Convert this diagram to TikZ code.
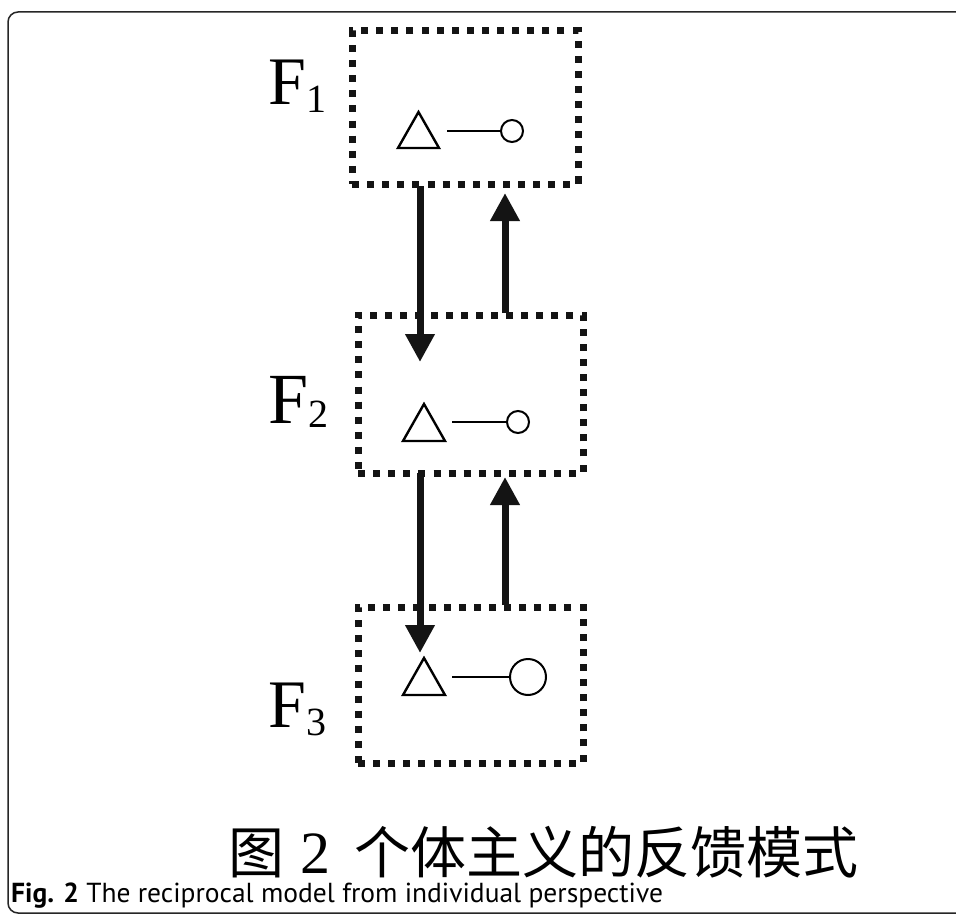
\documentclass[tikz,border=0pt]{standalone}
\usepackage{fontspec}
\setmainfont{Liberation Serif}
\newfontfamily\cjk{Noto Sans CJK SC}
\newfontfamily\capfont{PT Sans}
\usetikzlibrary{arrows.meta,shapes.geometric,calc}
\begin{document}
\begin{tikzpicture}[x=1pt,y=-1pt,
  dotbox/.style={draw=black!92,line width=7pt,dash pattern=on 7pt off 8.1pt,rectangle,inner sep=0pt,outer sep=0pt},
  bigarrow/.style={line width=7pt,draw=black!92,-{Triangle[length=28pt,width=28pt]}},
  shape line/.style={line width=2.4pt,draw=black},
  flabel/.style={anchor=base west,inner sep=0pt},
  frame/.style={draw=black!85,line width=1.5pt,rounded corners=10pt}]
\useasboundingbox (0,0) rectangle (956,915);
\fill[white] (0,0) rectangle (956,915);
% outer frame
\draw[frame] (972,12) -- (8,12) -- (8,913) -- (972,913);
% boxes
\node[dotbox,minimum width=226pt,minimum height=153pt] (b1) at (465,107.5) {};
\node[dotbox,minimum width=225pt,minimum height=158pt] (b2) at (470.5,394) {};
\node[dotbox,minimum width=225pt,minimum height=156pt] (b3) at (470.5,685) {};
% arrow endpoints
\coordinate (d1s) at (420,186);
\coordinate (d1t) at (420,362);
\coordinate (u1s) at (505,313);
\coordinate (u1t) at (505,193);
\coordinate (d2s) at (420,473);
\coordinate (d2t) at (420,653);
\coordinate (u2s) at (505,605);
\coordinate (u2t) at (505,477);
\draw[bigarrow] (d1s) -- (d1t);
\draw[bigarrow] (u1s) -- (u1t);
\draw[bigarrow] (d2s) -- (d2t);
\draw[bigarrow] (u2s) -- (u2t);
% triangle-circle symbols
\draw[shape line,line join=miter] (398,148) -- (418.5,112) -- (439,148) -- cycle;
\node[circle,draw,line width=2pt,minimum size=22pt,inner sep=0pt] (c1) at (512,131) {};
\coordinate (l1) at (447,131);
\draw[shape line] (l1) -- (c1);
\draw[shape line,line join=miter] (403,441) -- (424,404) -- (445,441) -- cycle;
\node[circle,draw,line width=2pt,minimum size=22pt,inner sep=0pt] (c2) at (518,422) {};
\coordinate (l2) at (452,422);
\draw[shape line] (l2) -- (c2);
\draw[shape line,line join=miter] (403,695) -- (424,658) -- (445,695) -- cycle;
\node[circle,draw,line width=2pt,minimum size=36pt,inner sep=0pt] (c3) at (528,677) {};
\coordinate (l3) at (452,677);
\draw[shape line] (l3) -- (c3);
% labels
\node[flabel] (f1) at (268,105) {\fontsize{68}{68}\selectfont F\raisebox{-8pt}{\fontsize{40}{40}\selectfont 1}};
\node[flabel] (f2) at (268,423) {\fontsize{72}{72}\selectfont F\raisebox{-4pt}{\fontsize{40}{40}\selectfont 2}};
\node[flabel] (f3) at (268,727) {\fontsize{68}{68}\selectfont F\raisebox{-8pt}{\fontsize{40}{40}\selectfont 3}};
% titles
\node[anchor=base west,inner sep=0pt] (t) at (228,873) {\fontsize{56}{56}\selectfont\cjk 图\hspace{16pt}{\rmfamily\fontsize{60}{60}\selectfont 2}\hspace{24pt}个体主义的反馈模式};
\node[anchor=base west,inner sep=0pt] (cap) at (11,902) {\fontsize{27.5}{27.5}\selectfont\capfont\textbf{Fig. 2} The reciprocal model from individual perspective};
\end{tikzpicture}
\end{document}
